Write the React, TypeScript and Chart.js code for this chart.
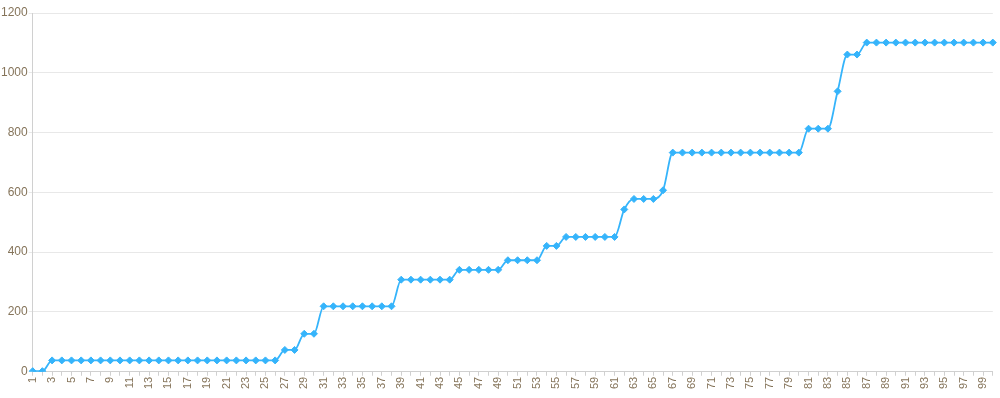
import React, { useEffect, useRef } from "react";
import { Chart, registerables } from "chart.js";

Chart.register(...registerables);

const categories: string[] = [
  "1","2","3","4","5","6","7","8","9","10",
  "11","12","13","14","15","16","17","18","19","20",
  "21","22","23","24","25","26","27","28","29","30",
  "31","32","33","34","35","36","37","38","39","40",
  "41","42","43","44","45","46","47","48","49","50",
  "51","52","53","54","55","56","57","58","59","60",
  "61","62","63","64","65","66","67","68","69","70",
  "71","72","73","74","75","76","77","78","79","80",
  "81","82","83","84","85","86","87","88","89","90",
  "91","92","93","94","95","96","97","98","99","100",
];

const values: number[] = [
  2, 2, 38, 38, 38, 38, 38, 38, 38, 38,
  38, 38, 38, 38, 38, 38, 38, 38, 38, 38,
  38, 38, 38, 38, 38, 38, 73, 73, 127, 127,
  219, 219, 219, 219, 219, 219, 219, 219, 308, 308,
  308, 308, 308, 308, 341, 341, 341, 341, 341, 373,
  373, 373, 373, 421, 421, 451, 451, 451, 451, 451,
  451, 543, 578, 578, 578, 607, 733, 733, 733, 733,
  733, 733, 733, 733, 733, 733, 733, 733, 733, 733,
  813, 813, 813, 938, 1061, 1061, 1101, 1101, 1101, 1101,
  1101, 1101, 1101, 1101, 1101, 1101, 1101, 1101, 1101, 1101,
];

const yTicks: number[] = [0, 200, 400, 600, 800, 1000, 1200];

export default function App() {
  const ref = useRef<HTMLCanvasElement | null>(null);
  useEffect(() => {
    if (!ref.current) return;
    const tickColor = "#85745a";
    const chart = new Chart(ref.current, {
      type: "line",
      data: {
        labels: categories,
        datasets: [
          {
            data: values,
            borderColor: "#35b4fb",
            backgroundColor: "#35b4fb",
            borderWidth: 1.8,
            cubicInterpolationMode: "monotone",
            pointStyle: "rectRot",
            pointRadius: 3.5,
            pointBorderWidth: 1,
            pointBackgroundColor: "#35b4fb",
            pointBorderColor: "#35b4fb",
            fill: false,
          },
        ],
      },
      options: {
        animation: false,
        responsive: true,
        maintainAspectRatio: false,
        layout: { padding: { top: 10, right: 0, left: 0, bottom: 8 } },
        plugins: { legend: { display: false }, tooltip: { enabled: false } },
        scales: {
          x: {
            offset: false,
            grid: {
              drawOnChartArea: false,
              drawTicks: true,
              tickLength: 4,
              color: "#d0d0d0",
            },
            border: { color: "#d0d0d0" },
            ticks: {
              autoSkip: false,
              maxRotation: 90,
              minRotation: 90,
              padding: 1,
              color: tickColor,
              font: { family: "'Liberation Sans', Arial, sans-serif", size: 11 },
              callback: (_v: any, i: number) => (i % 2 === 0 ? categories[i] : ""),
            },
          },
          y: {
            min: yTicks[0],
            max: yTicks[yTicks.length - 1],
            afterBuildTicks: (axis: any) => {
              axis.ticks = yTicks.map((v) => ({ value: v }));
            },
            grid: { color: "#e8e8e8", tickLength: 4 },
            border: { color: "#d0d0d0" },
            ticks: {
              padding: 1,
              color: tickColor,
              font: { family: "'Liberation Sans', Arial, sans-serif", size: 12 },
              callback: (v: any) => String(v),
            },
          },
        },
      },
    });
    return () => chart.destroy();
  }, []);
  return (
    <div style={{ position: "fixed", left: 0, top: 3, width: 1007, height: 395, background: "#fff" }}>
      <canvas ref={ref} />
    </div>
  );
}
